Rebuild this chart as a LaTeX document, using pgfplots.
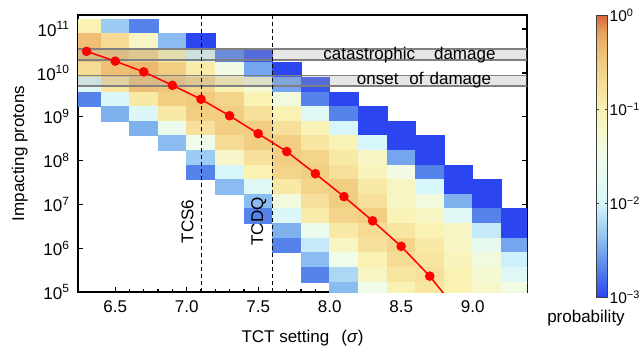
\documentclass[border=0pt]{standalone}
\usepackage{pgfplots}
\usepackage{pgfplotstable}
\pgfplotsset{compat=1.18}
\usepackage{fontspec}
\setmainfont{Liberation Sans}

% blue -> pale cyan -> pale yellow -> orange, over log10(probability) in [-3,0]
\pgfplotsset{colormap={heat}{
  rgb255(0cm)=(43,70,240)
  rgb255(1cm)=(90,138,235)
  rgb255(2cm)=(150,200,242)
  rgb255(3cm)=(215,246,252)
  rgb255(4.5cm)=(240,252,232)
  rgb255(6cm)=(250,242,178)
  rgb255(7.5cm)=(242,204,128)
  rgb255(8.4cm)=(232,165,95)
  rgb255(9cm)=(218,104,58)}}

% probability per cell: TCT setting (bin centre), log10 of protons (bin centre), probability
\pgfplotstableread{
s    e      p
6.3  11.067 0.1
6.3  10.733 0.4
6.3  10.4   0.4
6.3  10.067 0.2
6.3  9.733  0.015
6.3  9.4    0.002
6.5  11.067 0.005
6.5  10.733 0.2
6.5  10.4   0.35
6.5  10.067 0.4
6.5  9.733  0.15
6.5  9.4    0.012
6.5  9.067  0.0035
6.7  11.067 0.002
6.7  10.733 0.07
6.7  10.4   0.25
6.7  10.067 0.45
6.7  9.733  0.4
6.7  9.4    0.13
6.7  9.067  0.013
6.7  8.733  0.0035
6.9  10.733 0.004
6.9  10.4   0.1
6.9  10.067 0.3
6.9  9.733  0.35
6.9  9.4    0.3
6.9  9.067  0.13
6.9  8.733  0.025
6.9  8.4    0.004
7.1  10.733 0.001
7.1  10.4   0.015
7.1  10.067 0.12
7.1  9.733  0.25
7.1  9.4    0.33
7.1  9.067  0.3
7.1  8.733  0.17
7.1  8.4    0.03
7.1  8.067  0.005
7.1  7.733  0.002
7.3  10.4   0.002
7.3  10.067 0.035
7.3  9.733  0.1
7.3  9.4    0.25
7.3  9.067  0.3
7.3  8.733  0.3
7.3  8.4    0.2
7.3  8.067  0.06
7.3  7.733  0.01
7.3  7.4    0.004
7.5  10.4   0.0012
7.5  10.067 0.003
7.5  9.733  0.05
7.5  9.4    0.1
7.5  9.067  0.17
7.5  8.733  0.3
7.5  8.4    0.3
7.5  8.067  0.17
7.5  7.733  0.1
7.5  7.4    0.015
7.5  7.067  0.004
7.5  6.733  0.002
7.7  10.067 0.001
7.7  9.733  0.003
7.7  9.4    0.04
7.7  9.067  0.1
7.7  8.733  0.17
7.7  8.4    0.3
7.7  8.067  0.3
7.7  7.733  0.25
7.7  7.4    0.13
7.7  7.067  0.04
7.7  6.733  0.012
7.7  6.4    0.0035
7.7  6.067  0.002
7.9  9.733  0.0012
7.9  9.4    0.002
7.9  9.067  0.015
7.9  8.733  0.09
7.9  8.4    0.15
7.9  8.067  0.25
7.9  7.733  0.3
7.9  7.4    0.25
7.9  7.067  0.17
7.9  6.733  0.12
7.9  6.4    0.025
7.9  6.067  0.008
7.9  5.733  0.004
7.9  5.4    0.002
8.1  9.4    0.001
8.1  9.067  0.002
8.1  8.733  0.01
8.1  8.4    0.09
8.1  8.067  0.13
8.1  7.733  0.17
8.1  7.4    0.3
8.1  7.067  0.3
8.1  6.733  0.25
8.1  6.4    0.13
8.1  6.067  0.07
8.1  5.733  0.03
8.1  5.4    0.006
8.1  5.067  0.004
8.3  9.067  0.001
8.3  8.733  0.001
8.3  8.4    0.01
8.3  8.067  0.07
8.3  7.733  0.08
8.3  7.4    0.13
8.3  7.067  0.17
8.3  6.733  0.3
8.3  6.4    0.2
8.3  6.067  0.17
8.3  5.733  0.1
8.3  5.4    0.07
8.3  5.067  0.03
8.5  8.733  0.001
8.5  8.4    0.001
8.5  8.067  0.003
8.5  7.733  0.035
8.5  7.4    0.07
8.5  7.067  0.07
8.5  6.733  0.09
8.5  6.4    0.15
8.5  6.067  0.25
8.5  5.733  0.2
8.5  5.4    0.15
8.5  5.067  0.1
8.7  8.4    0.001
8.7  8.067  0.001
8.7  7.733  0.002
8.7  7.4    0.01
8.7  7.067  0.04
8.7  6.733  0.07
8.7  6.4    0.1
8.7  6.067  0.13
8.7  5.733  0.15
8.7  5.4    0.17
8.7  5.067  0.15
8.9  7.733  0.001
8.9  7.4    0.001
8.9  7.067  0.0035
8.9  6.733  0.015
8.9  6.4    0.07
8.9  6.067  0.07
8.9  5.733  0.08
8.9  5.4    0.1
8.9  5.067  0.1
9.1  7.4    0.001
9.1  7.067  0.001
9.1  6.733  0.002
9.1  6.4    0.008
9.1  6.067  0.02
9.1  5.733  0.04
9.1  5.4    0.05
9.1  5.067  0.06
9.3  6.733  0.001
9.3  6.4    0.001
9.3  6.067  0.003
9.3  5.733  0.009
9.3  5.4    0.015
9.3  5.067  0.035
}\cells

% median number of impacting protons per TCT setting
\pgfplotstableread{
s    N
6.3  3.1e10
6.5  1.85e10
6.7  1.05e10
6.9  5.2e9
7.1  2.5e9
7.3  1.05e9
7.5  4.1e8
7.7  1.6e8
7.9  5.0e7
8.1  1.5e7
8.3  4.2e6
8.5  1.1e6
8.7  2.3e5
8.9  3.5e4
}\median

\begin{document}
\begin{tikzpicture}[x=1pt,y=1pt]
\begin{axis}[
  at={(78pt,56pt)}, anchor=south west,
  scale only axis, width=449pt, height=277pt,
  xmin=6.24, xmax=9.38, ymin=5, ymax=11.32,
  colormap name=heat, point meta min=-3, point meta max=0,
  axis line style={line width=1.9pt},
  tick align=inside, xtick pos=bottom, ytick pos=both,
  xtick={6.5,7,...,9}, minor x tick num=4,
  ytick={5,6,7,8,9,10,11},
  yticklabels={10\textsuperscript{5},10\textsuperscript{6},10\textsuperscript{7},10\textsuperscript{8},10\textsuperscript{9},10\textsuperscript{10},10\textsuperscript{11}},
  major tick length=5pt, minor tick length=3pt,
  every tick/.style={black, line width=1.3pt},
  tick label style={font=\fontsize{17}{20}\selectfont},
  xticklabel style={yshift=-5pt, /pgf/number format/.cd, fixed, fixed zerofill, precision=1, assume math mode=true},
  yticklabel style={xshift=-5pt},
  xlabel={TCT setting\hspace{12pt}(\textit{σ})},
  ylabel={Impacting protons},
  label style={font=\fontsize{17}{20}\selectfont},
  xlabel style={at={(axis description cs:0.5,-0.168)}, anchor=center},
  ylabel style={at={(axis description cs:-0.13,0.5)}, anchor=center},
  clip marker paths=true,
  colorbar,
  colorbar style={
    at={(parent axis.south east)}, anchor=south west, xshift=61pt, yshift=-5pt,
    width=11pt, height=282pt,
    ytick={-3,-2,-1,0},
    yticklabels={10\textsuperscript{−3},10\textsuperscript{−2},10\textsuperscript{−1},10\textsuperscript{0}},
    yticklabel style={font=\fontsize{15.5}{18}\selectfont, inner sep=1pt, xshift=1pt},
    axis line style={line width=0.6pt, black!75},
    major tick length=2.5pt, tick align=inside,
    every tick/.style={black!75, line width=0.6pt},
  },
]
% probability cells
\addplot[scatter, only marks, mark=square*, mark size=7.305pt,
  mark options={xscale=1.9577, line width=0.5pt},
  scatter/use mapped color={draw=mapped color, fill=mapped color},
  point meta={log10(\thisrow{p})}]
  table[x=s, y=e] {\cells};

% damage thresholds
\fill[black!35, fill opacity=0.28] (axis cs:6.24,10.30) rectangle (axis cs:9.38,10.545);
\fill[black!35, fill opacity=0.28] (axis cs:6.24,9.70) rectangle (axis cs:9.38,9.94);
\draw[black!50, line width=1.8pt] (axis cs:6.24,10.30) -- (axis cs:9.38,10.30);
\draw[black!50, line width=1.8pt] (axis cs:6.24,10.545) -- (axis cs:9.38,10.545);
\draw[black!50, line width=1.8pt] (axis cs:6.24,9.70) -- (axis cs:9.38,9.70);
\draw[black!50, line width=1.8pt] (axis cs:6.24,9.94) -- (axis cs:9.38,9.94);

% collimator settings
\addplot[black, line width=0.9pt, dash pattern=on 4pt off 3pt] coordinates {(7.1,5) (7.1,11.32)};
\addplot[black, line width=0.9pt, dash pattern=on 4pt off 3pt] coordinates {(7.6,5) (7.6,11.32)};

% median
\addplot[red, line width=1.5pt, mark=*, mark size=4pt, mark options={fill=red, draw=red}]
  table[x=s, y expr={log10(\thisrow{N})}] {\median};

\node[anchor=base west, inner sep=0pt, font=\fontsize{17}{20}\selectfont] at (axis cs:7.955,10.309) {catastrophic\hspace{19pt}damage};
\node[anchor=base west, inner sep=0pt, font=\fontsize{17}{20}\selectfont] at (axis cs:8.189,9.723) {onset\hspace{11pt}of\hspace{6pt}damage};
\node[rotate=90, inner sep=0pt, font=\fontsize{17}{20}\selectfont] at (axis cs:7.0056,6.61) {TCS6};
\node[rotate=90, inner sep=0pt, font=\fontsize{17}{20}\selectfont] at (axis cs:7.5049,6.61) {TCDQ};
\end{axis}
\node[font=\fontsize{17}{20}\selectfont] at (586,30) {probability};
\pgfresetboundingbox
\path (0,0) rectangle (639,348);
\end{tikzpicture}
\end{document}
